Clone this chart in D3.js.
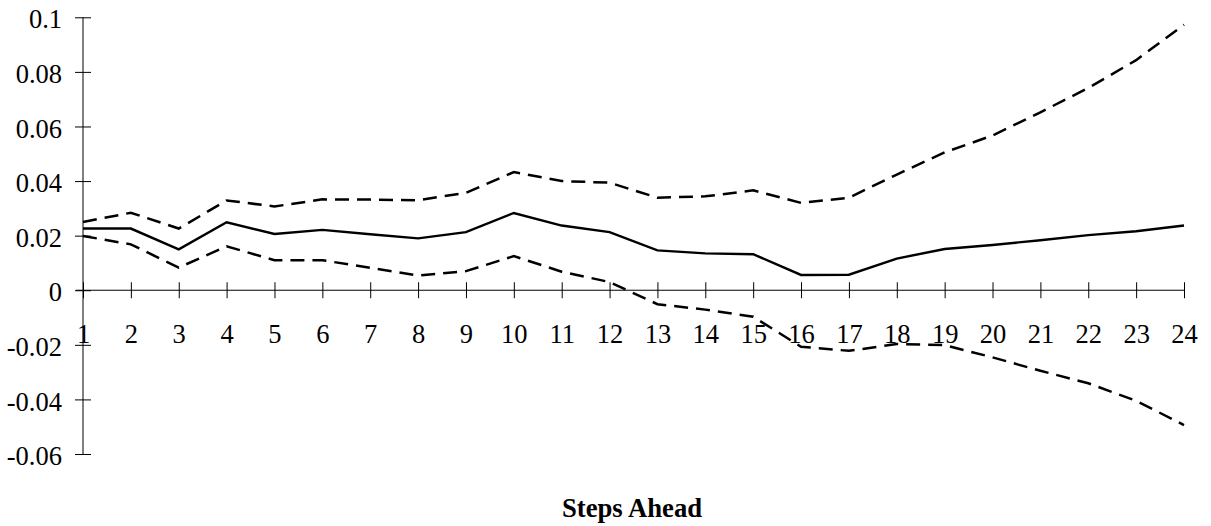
<!DOCTYPE html>
<html>
<head>
<meta charset="utf-8">
<script src="https://cdn.jsdelivr.net/npm/d3@7"></script>
<style>
  html, body { margin: 0; padding: 0; background: #fff; }
  svg { display: block; }
  text { font-family: "Liberation Serif", "Times New Roman", serif; fill: #000; }
</style>
</head>
<body>
<svg id="chart" width="1211" height="526"></svg>
<script>
const steps = d3.range(1, 25);
const yTicks = [-0.06, -0.04, -0.02, 0, 0.02, 0.04, 0.06, 0.08, 0.1];
const yTickLabels = ["-0.06", "-0.04", "-0.02", "0", "0.02", "0.04", "0.06", "0.08", "0.1"];
const estimate = [0.0226, 0.0226, 0.0150, 0.0249, 0.0206, 0.0221, 0.0205, 0.0190, 0.0213, 0.0283, 0.0237, 0.0213,
                  0.0146, 0.0135, 0.0132, 0.0056, 0.0057, 0.0116, 0.0151, 0.0166, 0.0183, 0.0202, 0.0216, 0.0237];
const upper = [0.0250, 0.0284, 0.0226, 0.0329, 0.0307, 0.0333, 0.0332, 0.0330, 0.0357, 0.0433, 0.0400, 0.0394,
               0.0339, 0.0344, 0.0366, 0.0320, 0.0339, 0.0424, 0.0505, 0.0567, 0.0652, 0.0741, 0.0843, 0.0973];
const lower = [0.0199, 0.0168, 0.0083, 0.0161, 0.0110, 0.0110, 0.0082, 0.0054, 0.0070, 0.0125, 0.0068, 0.0030,
               -0.0051, -0.0071, -0.0097, -0.0207, -0.0222, -0.0197, -0.0201, -0.0246, -0.0295, -0.0341, -0.0405, -0.0494];
const xTitle = "Steps Ahead";

const svg = d3.select("#chart");
const x = d3.scalePoint().domain(steps).range([83, 1184]);
const y = d3.scaleLinear().domain([-0.06, 0.1]).range([454, 17.3]);
const fontSize = 26.5;

// Y axis
const yAxis = svg.append("g").attr("transform", "translate(83,0)")
  .call(d3.axisLeft(y).tickValues(yTicks).tickFormat((d, i) => yTickLabels[i]).tickSizeOuter(0).tickSize(8));
yAxis.select(".domain").remove();
yAxis.selectAll(".tick line").attr("x1", -8).attr("x2", 8).attr("stroke", "#000").attr("stroke-width", 1);
yAxis.selectAll(".tick text").attr("x", -21).attr("dy", "0.4em")
  .attr("font-size", fontSize).attr("font-family", "Liberation Serif, Times New Roman, serif");
svg.append("line").attr("x1", 83).attr("x2", 83).attr("y1", y(-0.06)).attr("y2", y(0.1))
  .attr("stroke", "#000").attr("stroke-width", 1);

// X axis
const xAxis = svg.append("g").attr("transform", `translate(0,${y(0)})`)
  .call(d3.axisBottom(x).tickSizeOuter(0).tickSize(8));
xAxis.select(".domain").remove();
xAxis.selectAll(".tick line").attr("y1", -8).attr("y2", 8).attr("stroke", "#000").attr("stroke-width", 1);
xAxis.selectAll(".tick text").attr("y", 53).attr("dy", 0)
  .attr("font-size", fontSize).attr("font-family", "Liberation Serif, Times New Roman, serif");
svg.append("line").attr("x1", 76).attr("x2", x(24)).attr("y1", y(0)).attr("y2", y(0))
  .attr("stroke", "#000").attr("stroke-width", 1);

// Lines
const line = d3.line().x((d, i) => x(steps[i])).y(d => y(d));
svg.append("path").datum(upper).attr("d", line).attr("fill", "none")
  .attr("stroke", "#000").attr("stroke-width", 2.5).attr("stroke-dasharray", "14,8");
svg.append("path").datum(lower).attr("d", line).attr("fill", "none")
  .attr("stroke", "#000").attr("stroke-width", 2.5).attr("stroke-dasharray", "14,8");
svg.append("path").datum(estimate).attr("d", line).attr("fill", "none")
  .attr("stroke", "#000").attr("stroke-width", 2.4);

// Title
svg.append("text").attr("x", 632).attr("y", 517).attr("text-anchor", "middle")
  .attr("font-size", 26.7).attr("font-weight", "bold").text(xTitle);
</script>
</body>
</html>
